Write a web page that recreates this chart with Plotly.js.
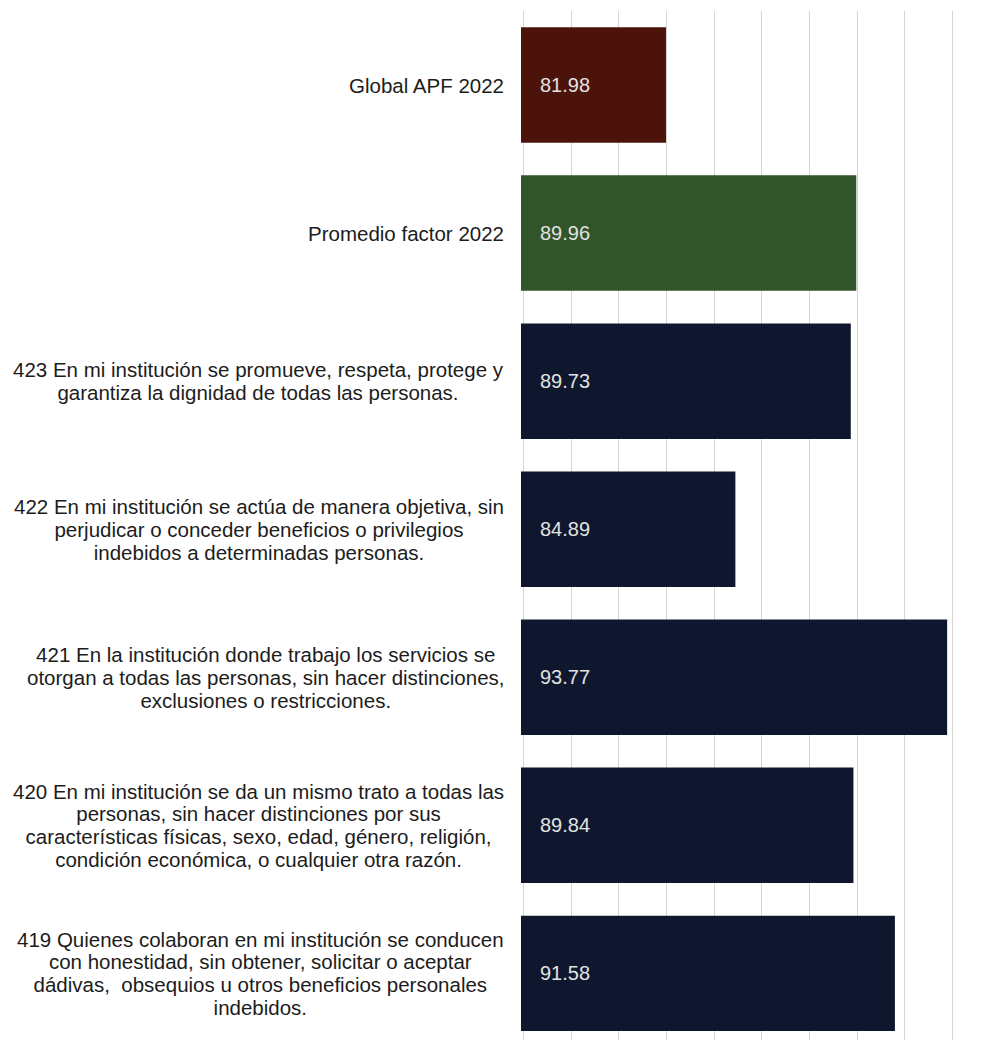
<!DOCTYPE html>
<html>
<head>
<meta charset="utf-8">
<script src="https://cdn.plot.ly/plotly-3.0.1.min.js"></script>
<style>html,body{margin:0;padding:0;background:#fff;}#chart{width:988px;height:1040px;}</style>
</head>
<body>
<div id="chart"></div>
<script>
// Category labels (top to bottom)
const categories = [
  "Global APF 2022",
  "Promedio factor 2022",
  "423 En mi institución se promueve, respeta, protege y<br>garantiza la dignidad de todas las personas.",
  "422 En mi institución se actúa de manera objetiva, sin<br>perjudicar o conceder beneficios o privilegios<br>indebidos a determinadas personas.",
  "421 En la institución donde trabajo los servicios se<br>otorgan a todas las personas, sin hacer distinciones,<br>exclusiones o restricciones.",
  "420 En mi institución se da un mismo trato a todas las<br>personas, sin hacer distinciones por sus<br>características físicas, sexo, edad, género, religión,<br>condición económica, o cualquier otra razón.",
  "419 Quienes colaboran en mi institución se conducen<br>con honestidad, sin obtener, solicitar o aceptar<br>dádivas,  obsequios u otros beneficios personales<br>indebidos."
];
const categoryKeys = ["c_global", "c_promedio", "c_423", "c_422", "c_421", "c_420", "c_419"];
const values = [81.98, 89.96, 89.73, 84.89, 93.77, 89.84, 91.58];
const barColors = ["#4b130a", "#32542a", "#0e172d", "#0e172d", "#0e172d", "#0e172d", "#0e172d"];
const xRange = [75.9, 94.1];
const AXIS_MIN = 76;

const FONT = "'Liberation Sans', Arial, sans-serif";
const LABEL_SIZE = 20.5;
const LABEL_LINE_SPACING = 1.12;

const trace = {
  type: "bar",
  orientation: "h",
  y: categoryKeys,
  x: values,
  marker: {color: barColors, line: {width: 0}},
  width: 0.78,
  hoverinfo: "none"
};

const labelAnnotations = categoryKeys.map((k, i) => ({
  xref: "paper", yref: "y",
  x: 0, y: i,
  xanchor: "right", yanchor: "middle",
  xshift: -15,
  align: "center",
  showarrow: false,
  text: categories[i],
  font: {family: FONT, size: LABEL_SIZE, color: "#1c1c1c"}
}));

const valueAnnotations = values.map((v, i) => ({
  xref: "x", yref: "y",
  x: AXIS_MIN, y: i,
  xanchor: "left", yanchor: "middle",
  xshift: 15,
  showarrow: false,
  text: v.toFixed(2),
  font: {family: FONT, size: 20, color: "#e2e2e2"}
}));

const layout = {
  width: 988, height: 1040,
  margin: {l: 521, r: 33, t: 11, b: 0},
  paper_bgcolor: "#ffffff",
  plot_bgcolor: "#ffffff",
  showlegend: false,
  xaxis: {
    range: xRange,
    dtick: 2, tick0: 76,
    showgrid: true, gridcolor: "#d4d4d4", gridwidth: 1,
    zeroline: false, showticklabels: false, ticks: "",
    showline: false, fixedrange: true
  },
  yaxis: {
    type: "category",
    categoryorder: "array", categoryarray: categoryKeys,
    range: [6.45, -0.5],
    showgrid: false, zeroline: false, showticklabels: false, ticks: "",
    showline: false, fixedrange: true
  },
  annotations: labelAnnotations.concat(valueAnnotations),
  font: {family: FONT}
};

const gd = document.getElementById("chart");
Plotly.newPlot(gd, [trace], layout, {staticPlot: true, displayModeBar: false}).then(() => {
  // tighten multi-line label spacing to match the reference
  gd.querySelectorAll("text.annotation-text").forEach(t => {
    const lines = t.querySelectorAll("tspan.line");
    if (lines.length < 2) return;
    const fs = parseFloat(t.style.fontSize) || LABEL_SIZE;
    const shift = (lines.length - 1) * (1.3 - LABEL_LINE_SPACING) * fs / 2;
    lines.forEach((ln, i) => {
      ln.setAttribute("dy", (i * LABEL_LINE_SPACING) + "em");
      const y = parseFloat(ln.getAttribute("y") || "0");
      ln.setAttribute("y", y + shift);
    });
  });
});
</script>
</body>
</html>
